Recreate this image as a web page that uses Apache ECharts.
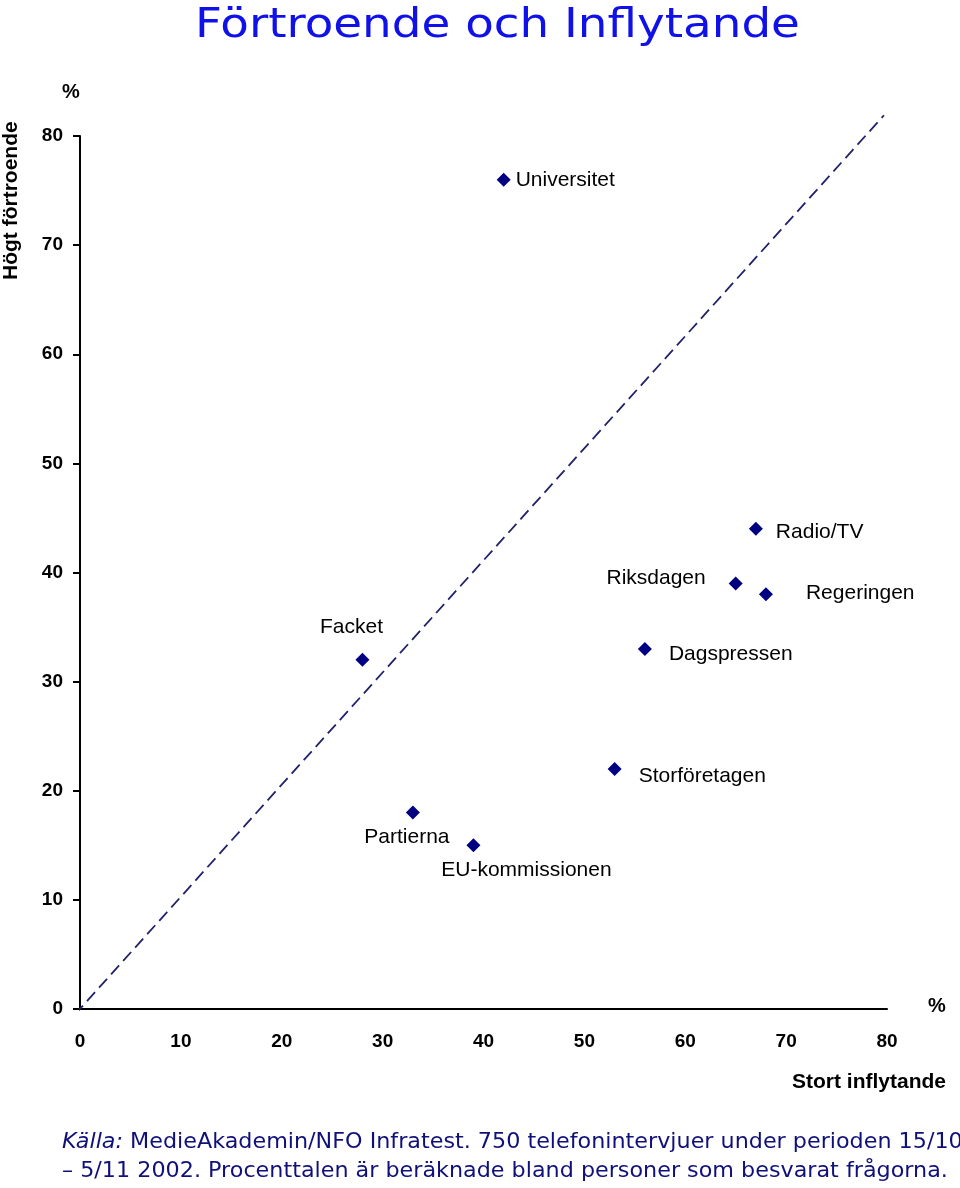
<!DOCTYPE html>
<html>
<head>
<meta charset="utf-8">
<script src="https://cdn.jsdelivr.net/npm/echarts@6/dist/echarts.min.js"></script>
<style>
html, body { margin: 0; padding: 0; background: #ffffff; }
#chart { width: 960px; height: 1188px; }
</style>
</head>
<body>
<div id="chart"></div>
<script>
// institutioner: inflytande (x) och förtroende (y), procent
var names = ['Universitet', 'Radio/TV', 'Riksdagen', 'Regeringen', 'Dagspressen', 'Facket', 'Storföretagen', 'Partierna', 'EU-kommissionen'];
var inflytande = [42, 67, 65, 68, 56, 28, 53, 33, 39];
var fortroende = [76, 44, 39, 38, 33, 32, 22, 18, 15];
var xTicks = [0, 10, 20, 30, 40, 50, 60, 70, 80];
var yTicks = [0, 10, 20, 30, 40, 50, 60, 70, 80];
// diagonal referenslinje (start, slut)
var diagX = [-0.5, 79.7];
var diagY = [-0.5, 81.9];

// var etiketten hamnar runt punkten
var labelPos = ['right', 'right', 'left', 'right', 'right', 'top', 'right', 'bottom', 'bottom'];
var labelOff = [[0, 1], [8, 3], [-18, -5], [28, -1], [12, 5], [-11, -10], [12, 7], [-6, 2], [53, 2]];

var chart = echarts.init(document.getElementById('chart'));

var points = [];
for (var i = 0; i < names.length; i++) {
  points.push({
    name: names[i],
    value: [inflytande[i], fortroende[i]],
    label: { position: labelPos[i], offset: labelOff[i] }
  });
}

var option = {
  animation: false,
  backgroundColor: '#ffffff',
  grid: { left: 80, top: 136, right: 73, bottom: 179 },
  xAxis: {
    type: 'value',
    min: xTicks[0],
    max: xTicks[xTicks.length - 1],
    interval: 10,
    splitLine: { show: false },
    axisTick: { show: false },
    axisLine: { lineStyle: { color: '#000', width: 2 } },
    axisLabel: {
      margin: 23,
      color: '#000',
      fontFamily: 'Liberation Sans, Arial',
      fontWeight: 'bold',
      fontSize: 19
    }
  },
  yAxis: {
    type: 'value',
    min: yTicks[0],
    max: yTicks[yTicks.length - 1],
    interval: 10,
    splitLine: { show: false },
    axisTick: { show: true, length: 7, lineStyle: { color: '#000', width: 2 } },
    axisLine: { lineStyle: { color: '#000', width: 2 } },
    axisLabel: {
      margin: 17,
      color: '#000',
      fontFamily: 'Liberation Sans, Arial',
      fontWeight: 'bold',
      fontSize: 19
    }
  },
  series: [
    {
      type: 'line',
      data: [[diagX[0], diagY[0]], [diagX[1], diagY[1]]],
      symbol: 'none',
      clip: false,
      silent: true,
      lineStyle: { color: '#22226a', width: 1.8, type: [12, 6] },
      z: 1
    },
    {
      type: 'scatter',
      data: points,
      symbol: 'diamond',
      symbolSize: 14,
      itemStyle: { color: '#000080', opacity: 1 },
      label: {
        show: true,
        formatter: '{b}',
        color: '#000',
        fontFamily: 'Liberation Sans, Arial',
        fontSize: 21
      },
      z: 3
    }
  ],
  graphic: [
    {
      type: 'text', x: 195, y: 27, scaleX: 1.17,
      style: {
        text: 'Förtroende och Inflytande',
        font: '40px "DejaVu Sans"',
        fill: '#1010e8',
        verticalAlign: 'middle'
      }
    },
    {
      type: 'text', left: 62, top: 82,
      style: { text: '%', font: 'bold 20px "Liberation Sans"', fill: '#000' }
    },
    {
      type: 'text', left: 928, top: 996,
      style: { text: '%', font: 'bold 20px "Liberation Sans"', fill: '#000' }
    },
    {
      type: 'text', left: 792, top: 1072,
      style: { text: 'Stort inflytande', font: 'bold 21px "Liberation Sans"', fill: '#000' }
    },
    {
      type: 'text', x: 1, y: 280, rotation: Math.PI / 2,
      style: { text: 'Högt förtroende', font: 'bold 21px "Liberation Sans"', fill: '#000' }
    },
    {
      type: 'text', x: 62, y: 1143, scaleX: 1.06,
      style: {
        text: '{i|Källa:} MedieAkademin/NFO Infratest. 750 telefonintervjuer under perioden 15/10',
        font: '21px "DejaVu Sans"',
        fill: '#10107a',
        verticalAlign: 'middle',
        rich: { i: { fontStyle: 'italic', fontSize: 21, fontFamily: 'DejaVu Sans', fill: '#10107a' } }
      }
    },
    {
      type: 'text', x: 62, y: 1172, scaleX: 1.06,
      style: {
        text: '– 5/11 2002. Procenttalen är beräknade bland personer som besvarat frågorna.',
        font: '21px "DejaVu Sans"',
        fill: '#10107a',
        verticalAlign: 'middle'
      }
    }
  ]
};

chart.setOption(option);
</script>
</body>
</html>
